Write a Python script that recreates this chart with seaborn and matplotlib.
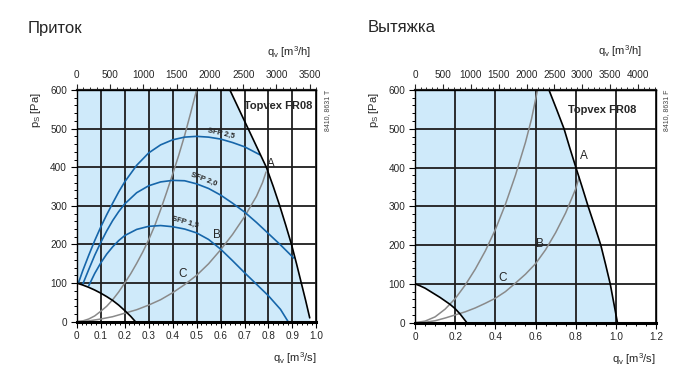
import numpy as np
import pandas as pd
import matplotlib
matplotlib.use("Agg")
import matplotlib.pyplot as plt
import seaborn as sns
from matplotlib.ticker import MultipleLocator, FuncFormatter

# ---- data (x in m3/s, y in Pa) ----
# Supply (Приток)
sup_bound_x = [0.639, 0.677, 0.715, 0.753, 0.791, 0.820, 0.847, 0.872, 0.896, 0.917, 0.937, 0.955, 0.972]
sup_bound_y = [600, 550, 500, 450, 400, 350, 300, 250, 200, 150, 100, 55, 10]
sup_low_x = [0.0, 0.025, 0.05, 0.075, 0.10, 0.125, 0.15, 0.175, 0.20, 0.225, 0.245]
sup_low_y = [100, 95, 89, 82, 74, 65, 55, 43, 29, 14, 0]
sup_steep_x = [0.0, 0.025, 0.05, 0.075, 0.10, 0.125, 0.15, 0.175, 0.20, 0.225, 0.25,
               0.275, 0.30, 0.325, 0.35, 0.375, 0.40, 0.425, 0.45, 0.475, 0.50]
sup_steep_y = [0, 2, 7, 15, 27, 40, 57, 77, 100, 124, 151,
               180, 212, 248, 290, 335, 382, 430, 482, 540, 600]
sup_flat_x = [0.0, 0.05, 0.10, 0.15, 0.20, 0.25, 0.30, 0.35, 0.40, 0.45, 0.50,
              0.55, 0.60, 0.65, 0.70, 0.75, 0.775, 0.79]
sup_flat_y = [0, 2, 7, 13, 22, 31, 43, 57, 75, 96, 120,
              150, 186, 226, 272, 325, 360, 388]
sfp25_x = [0.008, 0.025, 0.05, 0.075, 0.10, 0.125, 0.15, 0.175, 0.20, 0.25, 0.30, 0.35,
           0.40, 0.45, 0.50, 0.55, 0.60, 0.65, 0.70, 0.765]
sfp25_y = [102, 132, 172, 210, 245, 277, 307, 336, 362, 405, 437, 458,
           471, 478, 480, 478, 473, 464, 453, 432]
sfp20_x = [0.025, 0.05, 0.075, 0.10, 0.125, 0.15, 0.175, 0.20, 0.25, 0.30, 0.35, 0.40,
           0.45, 0.50, 0.55, 0.60, 0.65, 0.70, 0.75, 0.80, 0.85, 0.905]
sfp20_y = [97, 135, 172, 205, 235, 262, 285, 305, 334, 352, 362, 366,
           365, 357, 345, 328, 307, 284, 257, 228, 199, 165]
sfp15_x = [0.05, 0.075, 0.10, 0.125, 0.15, 0.175, 0.20, 0.25, 0.30, 0.35, 0.40, 0.45,
           0.50, 0.55, 0.60, 0.65, 0.70, 0.75, 0.80, 0.85, 0.882]
sfp15_y = [93, 125, 152, 175, 194, 210, 223, 239, 247, 249, 246, 240,
           230, 213, 188, 158, 127, 97, 67, 32, 0]
sfp_names = ["SFP 2,5", "SFP 2,0", "SFP 1,5"]

# Extract (Вытяжка)
ext_bound_x = [0.667, 0.705, 0.742, 0.771, 0.800, 0.832, 0.862, 0.894, 0.925, 0.949, 0.972, 0.990, 1.008]
ext_bound_y = [600, 550, 500, 450, 402, 350, 300, 250, 200, 150, 100, 50, 0]
ext_low_x = [0.0, 0.025, 0.05, 0.075, 0.10, 0.125, 0.15, 0.175, 0.20, 0.225, 0.258]
ext_low_y = [100, 95, 89, 81, 73, 65, 56, 47, 36, 22, 0]
ext_steep_x = [0.0, 0.05, 0.10, 0.15, 0.20, 0.25, 0.30, 0.35, 0.40, 0.45, 0.50, 0.55, 0.58, 0.61]
ext_steep_y = [0, 4, 15, 35, 62, 97, 138, 185, 240, 305, 380, 465, 525, 600]
ext_flat_x = [0.0, 0.05, 0.10, 0.15, 0.20, 0.25, 0.30, 0.35, 0.40, 0.45, 0.50, 0.55,
              0.60, 0.65, 0.70, 0.75, 0.80, 0.817]
ext_flat_y = [0, 1, 5, 12, 20, 28, 38, 50, 63, 80, 102, 125,
              152, 188, 232, 283, 345, 375]

x_ticks_sup = [0, 0.1, 0.2, 0.3, 0.4, 0.5, 0.6, 0.7, 0.8, 0.9, 1.0]
x_ticks_ext = [0, 0.2, 0.4, 0.6, 0.8, 1.0, 1.2]
top_ticks_sup = [0, 500, 1000, 1500, 2000, 2500, 3000, 3500]
top_ticks_ext = [0, 500, 1000, 1500, 2000, 2500, 3000, 3500, 4000]
y_ticks = [0, 100, 200, 300, 400, 500, 600]

sns.set_style("white")
plt.rcParams['font.family'] = ['Liberation Sans', 'DejaVu Sans']
plt.rcParams['mathtext.fontset'] = 'custom'
plt.rcParams['mathtext.rm'] = 'Liberation Sans'
plt.rcParams['mathtext.it'] = 'Liberation Sans:italic'
plt.rcParams['mathtext.bf'] = 'Liberation Sans:bold'

FILL = '#cfeafa'
BLUE = '#1666aa'
GREY = '#8a8a8a'
GRID = '#1e1e1e'

fig = plt.figure(figsize=(6.87, 3.76), dpi=100)
ax1 = fig.add_axes([0.1117, 0.1444, 0.3489, 0.6162])
ax2 = fig.add_axes([0.6041, 0.1418, 0.3508, 0.6189])


def fmt_x(v, pos):
    if abs(v) < 1e-9:
        return "0"
    return f"{v:.1f}"


def setup(ax, xmax, xticks, xminor, top_ticks, code):
    ax.set_xlim(0, xmax)
    ax.set_ylim(0, 600)
    ax.set_xticks(xticks)
    ax.set_yticks(y_ticks)
    ax.xaxis.set_minor_locator(MultipleLocator(xminor))
    ax.yaxis.set_minor_locator(MultipleLocator(20))
    ax.xaxis.set_major_formatter(FuncFormatter(fmt_x))
    ax.set_axisbelow(True)
    ax.grid(True, which='major', color=GRID, lw=1.3)
    ax.tick_params(which='both', direction='out', color='black', labelsize=7.2,
                   bottom=True, left=True, top=False, right=False, pad=3)
    ax.tick_params(which='major', length=4, width=0.8)
    ax.tick_params(which='minor', length=2.5, width=0.7)
    for s in ['left', 'right', 'top']:
        ax.spines[s].set_linewidth(1.0)
        ax.spines[s].set_color('black')
    ax.spines['bottom'].set_linewidth(2.2)
    ax.spines['bottom'].set_color('black')
    ax.set_xlabel("")
    ax.set_ylabel("")

    sec = ax.secondary_xaxis('top', functions=(lambda v: v * 3600, lambda v: v / 3600))
    sec.set_xticks(top_ticks)
    sec.xaxis.set_minor_locator(MultipleLocator(100))
    sec.tick_params(which='both', direction='out', labelsize=7.2, pad=3)
    sec.tick_params(which='major', length=4, width=0.8)
    sec.tick_params(which='minor', length=2.5, width=0.7)
    sec.spines['top'].set_linewidth(1.6)

    ax.text(-0.17, 0.915, r'p$_\mathrm{S}$ [Pa]', rotation=90, transform=ax.transAxes,
            ha='center', va='center', fontsize=8)
    ax.text(1.0, -0.155, r'q$_\mathrm{v}$ [m$^\mathrm{3}$/s]', transform=ax.transAxes,
            ha='right', va='center', fontsize=8)
    ax.text(1.045, 1.0, code, rotation=90, transform=ax.transAxes,
            ha='center', va='top', fontsize=5, color='#444444')


def region(ax, bx, by, lx, ly):
    px = [0.0] + list(bx) + [bx[-1] + 0.003, lx[-1]] + list(lx[::-1])
    py = [600] + list(by) + [0, 0] + list(ly[::-1])
    ax.fill(px, py, color=FILL, lw=0, zorder=0.2)
    sns.lineplot(x=bx, y=by, ax=ax, color='black', lw=1.2, sort=False, estimator=None, zorder=3)
    sns.lineplot(x=lx, y=ly, ax=ax, color='black', lw=1.2, sort=False, estimator=None, zorder=3)


# ---- supply panel ----
setup(ax1, 1.0, x_ticks_sup, 0.02, top_ticks_sup, "8410, 8631 T")
region(ax1, sup_bound_x, sup_bound_y, sup_low_x, sup_low_y)
for xs, ys in [(sup_steep_x, sup_steep_y), (sup_flat_x, sup_flat_y)]:
    sns.lineplot(x=xs, y=ys, ax=ax1, color=GREY, lw=1.1, sort=False, estimator=None, zorder=2)
sfp_curves = [(sfp25_x, sfp25_y), (sfp20_x, sfp20_y), (sfp15_x, sfp15_y)]
for xs, ys in sfp_curves:
    sns.lineplot(x=xs, y=ys, ax=ax1, color=BLUE, lw=1.2, sort=False, estimator=None, zorder=2.5)
sfp_label_pos = [(0.60, 488, -13), (0.53, 368, -21), (0.45, 258, -16)]
for name, (lx, ly, rot) in zip(sfp_names, sfp_label_pos):
    ax1.text(lx, ly, name, fontsize=5.5, fontweight='bold', rotation=rot,
             ha='center', va='center', zorder=4)
ax1.text(0.985, 558, "Topvex FR08", fontsize=8, fontweight='bold', ha='right', va='center', zorder=4)
ax1.text(0.812, 408, "A", fontsize=8.5, ha='center', va='center', zorder=4)
ax1.text(0.583, 225, "B", fontsize=8.5, ha='center', va='center', zorder=4)
ax1.text(0.44, 124, "C", fontsize=8.5, ha='center', va='center', zorder=4)
ax1.text(0.98, 1.165, r'q$_\mathrm{v}$ [m$^\mathrm{3}$/h]', transform=ax1.transAxes,
         ha='right', va='center', fontsize=8)

# ---- extract panel ----
setup(ax2, 1.2, x_ticks_ext, 0.05, top_ticks_ext, "8410, 8631 F")
region(ax2, ext_bound_x, ext_bound_y, ext_low_x, ext_low_y)
for xs, ys in [(ext_steep_x, ext_steep_y), (ext_flat_x, ext_flat_y)]:
    sns.lineplot(x=xs, y=ys, ax=ax2, color=GREY, lw=1.1, sort=False, estimator=None, zorder=2)
ax2.text(1.1, 548, "Topvex FR08", fontsize=8, fontweight='bold', ha='right', va='center', zorder=4)
ax2.text(0.842, 429, "A", fontsize=8.5, ha='center', va='center', zorder=4)
ax2.text(0.62, 204, "B", fontsize=8.5, ha='center', va='center', zorder=4)
ax2.text(0.437, 114, "C", fontsize=8.5, ha='center', va='center', zorder=4)
ax2.text(0.945, 1.165, r'q$_\mathrm{v}$ [m$^\mathrm{3}$/h]', transform=ax2.transAxes,
         ha='right', va='center', fontsize=8)

fig.text(28 / 687, 1 - 28 / 376, "Приток", fontsize=12, ha='left', va='center')
fig.text(368 / 687, 1 - 28 / 376, "Вытяжка", fontsize=12, ha='left', va='center')

fig.savefig("out.png", dpi=100)
